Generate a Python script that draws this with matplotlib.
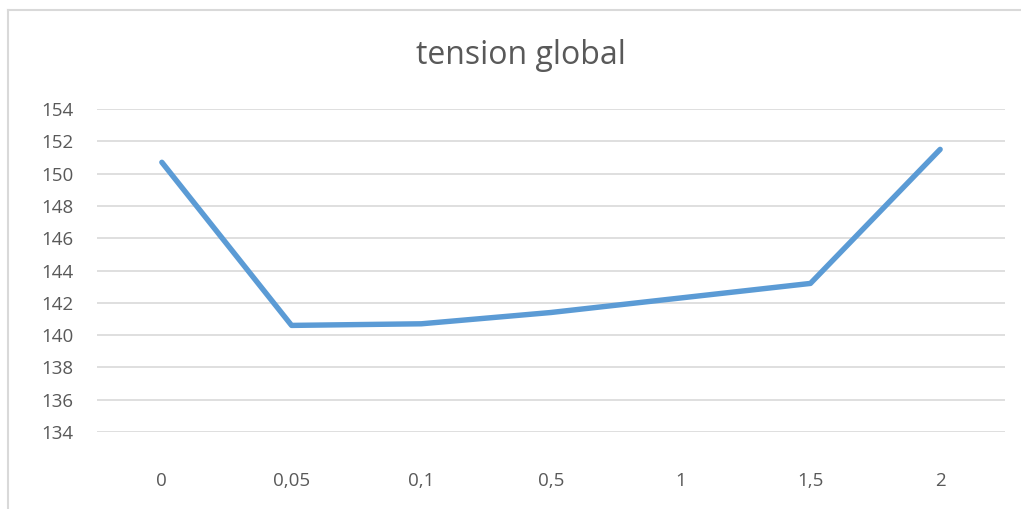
import matplotlib.pyplot as plt
from matplotlib.lines import Line2D

categories = ['0', '0,05', '0,1', '0,5', '1', '1,5', '2']
tension = [150.7, 140.6, 140.7, 141.4, 142.3, 143.2, 151.5]
yticks = [134, 136, 138, 140, 142, 144, 146, 148, 150, 152, 154]

text_color = '#595959'
grid_color = '#D9D9D9'

plt.rcParams['font.family'] = ['Open Sans', 'DejaVu Sans']

fig = plt.figure(figsize=(10.21, 5.09), dpi=100)
W, H = 1021, 509
ax = fig.add_axes([97 / W, 1 - 432 / H, (1005 - 97) / W, (432 - 109) / H])

x = list(range(len(categories)))
ax.plot(x, tension, color='#5B9BD5', linewidth=3.9, solid_capstyle='round',
        solid_joinstyle='round', zorder=3)

ax.set_xlim(-0.5, len(categories) - 0.5)
ax.set_ylim(134, 154)
ax.set_xticks(x)
ax.set_xticklabels(categories)
ax.set_yticks(yticks)
ax.grid(axis='y', color=grid_color, linewidth=1.2)
ax.set_axisbelow(True)
for s in ax.spines.values():
    s.set_visible(False)
ax.tick_params(axis='both', length=0, labelsize=13.5, colors=text_color)
ax.tick_params(axis='x', pad=29)
ax.tick_params(axis='y', pad=17)

fig.text(521 / W, 1 - 55 / H, 'tension global', ha='center', va='center',
         fontsize=23, color=text_color)

# chart border (cropped, only top and left visible)
fig.add_artist(Line2D([8 / W, 1], [1 - 10 / H, 1 - 10 / H], color=grid_color, linewidth=1.5))
fig.add_artist(Line2D([8 / W, 8 / W], [0, 1 - 10 / H], color=grid_color, linewidth=1.5))

fig.savefig('out.png', dpi=100)
